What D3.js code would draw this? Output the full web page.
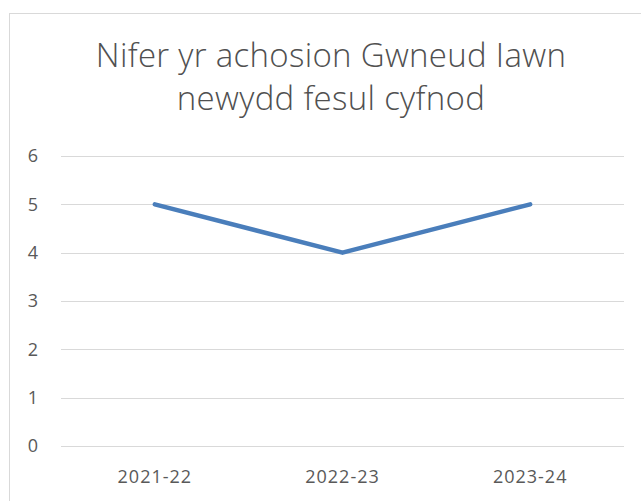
<!DOCTYPE html>
<html>
<head>
<meta charset="utf-8">
<script src="https://cdn.jsdelivr.net/npm/d3@7"></script>
<style>
  body { margin: 0; background: #fff; }
  text { font-family: "Open Sans", "Liberation Sans", sans-serif; fill: #595959; }
</style>
</head>
<body>
<svg width="641" height="501"></svg>
<script>
const categories = ["2021-22", "2022-23", "2023-24"];
const values = [5, 4, 5];
const yTicks = [0, 1, 2, 3, 4, 5, 6];
const titleLines = ["Nifer yr achosion Gwneud Iawn", "newydd fesul cyfnod"];

const svg = d3.select("svg");
const width = +svg.attr("width");
const height = +svg.attr("height");

const margin = { top: 156, right: 17, bottom: 55, left: 61 };

// chart area border (runs off the bottom/right of the picture)
svg.append("rect")
  .attr("x", 9.5)
  .attr("y", 13.5)
  .attr("width", width + 20)
  .attr("height", height + 20)
  .attr("fill", "#fff")
  .attr("stroke", "#d9d9d9");

const x = d3.scaleBand()
  .domain(categories)
  .range([margin.left, width - margin.right]);

const y = d3.scaleLinear()
  .domain([0, 6])
  .range([height - margin.bottom, margin.top]);

// title
svg.append("text")
  .attr("text-anchor", "middle")
  .style("font-size", "33px")
  .style("font-weight", 300)
  .style("letter-spacing", "0.3px")
  .style("fill", "#505050")
  .selectAll("tspan")
  .data(titleLines)
  .join("tspan")
  .attr("x", 331)
  .attr("y", (d, i) => 67 + i * 43)
  .text(d => d);

// gridlines
svg.append("g")
  .selectAll("line")
  .data(yTicks)
  .join("line")
  .attr("x1", margin.left)
  .attr("x2", width - margin.right)
  .attr("y1", d => Math.round(y(d)) + 0.5)
  .attr("y2", d => Math.round(y(d)) + 0.5)
  .attr("stroke", "#d9d9d9")
  .attr("stroke-width", 1);

// y tick labels
svg.append("g")
  .selectAll("text")
  .data(yTicks)
  .join("text")
  .attr("x", 38)
  .attr("y", d => y(d))
  .attr("dy", "0.36em")
  .attr("text-anchor", "end")
  .style("font-size", "18px")
  .text(d => d);

// x labels
svg.append("g")
  .selectAll("text")
  .data(categories)
  .join("text")
  .attr("x", d => x(d) + x.bandwidth() / 2)
  .attr("y", 483)
  .attr("text-anchor", "middle")
  .style("font-size", "18px")
  .style("letter-spacing", "1px")
  .text(d => d);

// the line
const line = d3.line()
  .x((d, i) => x(categories[i]) + x.bandwidth() / 2)
  .y(d => y(d));

svg.append("path")
  .datum(values)
  .attr("d", line)
  .attr("fill", "none")
  .attr("stroke", "#4a7ebb")
  .attr("stroke-width", 4.5)
  .attr("stroke-linecap", "round")
  .attr("stroke-linejoin", "round");
</script>
</body>
</html>
